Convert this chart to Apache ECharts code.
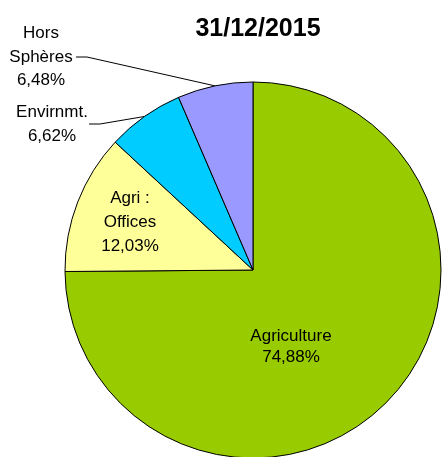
<!DOCTYPE html>
<html>
<head>
<meta charset="utf-8">
<script src="https://cdn.jsdelivr.net/npm/echarts@6/dist/echarts.min.js"></script>
<style>
html,body{margin:0;padding:0;background:#fff;}
#c{width:442px;height:457px;}
</style>
</head>
<body>
<div id="c"></div>
<script>
const titleText = '31/12/2015';
const categories = ['Agriculture', 'Agri :\nOffices', 'Envirnmt.', 'Hors\nSphères'];
const values = [74.88, 12.03, 6.62, 6.48];
const colors = ['#99CC00', '#FFFF99', '#00CCFF', '#9999FF'];

// label placement (pixels) per slice
const labelPos = [
  { x: 291, y: 347, line: null },
  { x: 130, y: 222, line: null },
  { x: 52, y: 124.5, line: [[100, 124], [89, 124]] },
  { x: 41, y: 57, line: [[87, 57], [76, 57]] }
];

const chart = echarts.init(document.getElementById('c'), null, { renderer: 'canvas' });
const fmt = v => v.toFixed(2).replace('.', ',') + '%';

chart.setOption({
  animation: false,
  title: {
    text: titleText,
    left: 253,
    top: 12,
    textAlign: 'center',
    textStyle: { fontFamily: 'Liberation Sans, Arial, sans-serif', fontSize: 25, fontWeight: 'bold', color: '#000' }
  },
  series: [{
    type: 'pie',
    center: [253, 270],
    radius: 188,
    startAngle: 90,
    clockwise: true,
    avoidLabelOverlap: false,
    emphasis: { disabled: true },
    itemStyle: { borderColor: '#000', borderWidth: 1 },
    label: {
      show: true,
      position: 'inside',
      color: '#000',
      fontFamily: 'Liberation Sans, Arial, sans-serif',
      fontSize: 17,
      lineHeight: 23.5,
      align: 'center',
      formatter: p => p.name + '\n' + fmt(p.value)
    },
    labelLine: { show: false },
    labelLayout: function (params) {
      const lp = labelPos[params.dataIndex];
      const out = { x: lp.x, y: lp.y, align: 'center', verticalAlign: 'middle' };
      if (lp.line && params.labelLinePoints) {
        out.labelLinePoints = [params.labelLinePoints[0], lp.line[0], lp.line[1]];
      }
      return out;
    },
    data: categories.map((name, i) => {
      const d = { name: name, value: values[i], itemStyle: { color: colors[i] } };
      if (i >= 2) {
        d.label = { position: 'outside' };
        d.labelLine = { show: true, length: 10, length2: 10, lineStyle: { color: '#000', width: 1 } };
      } else {
        d.label = { lineHeight: i === 0 ? 21.5 : 24 };
      }
      return d;
    })
  }]
});
</script>
</body>
</html>
